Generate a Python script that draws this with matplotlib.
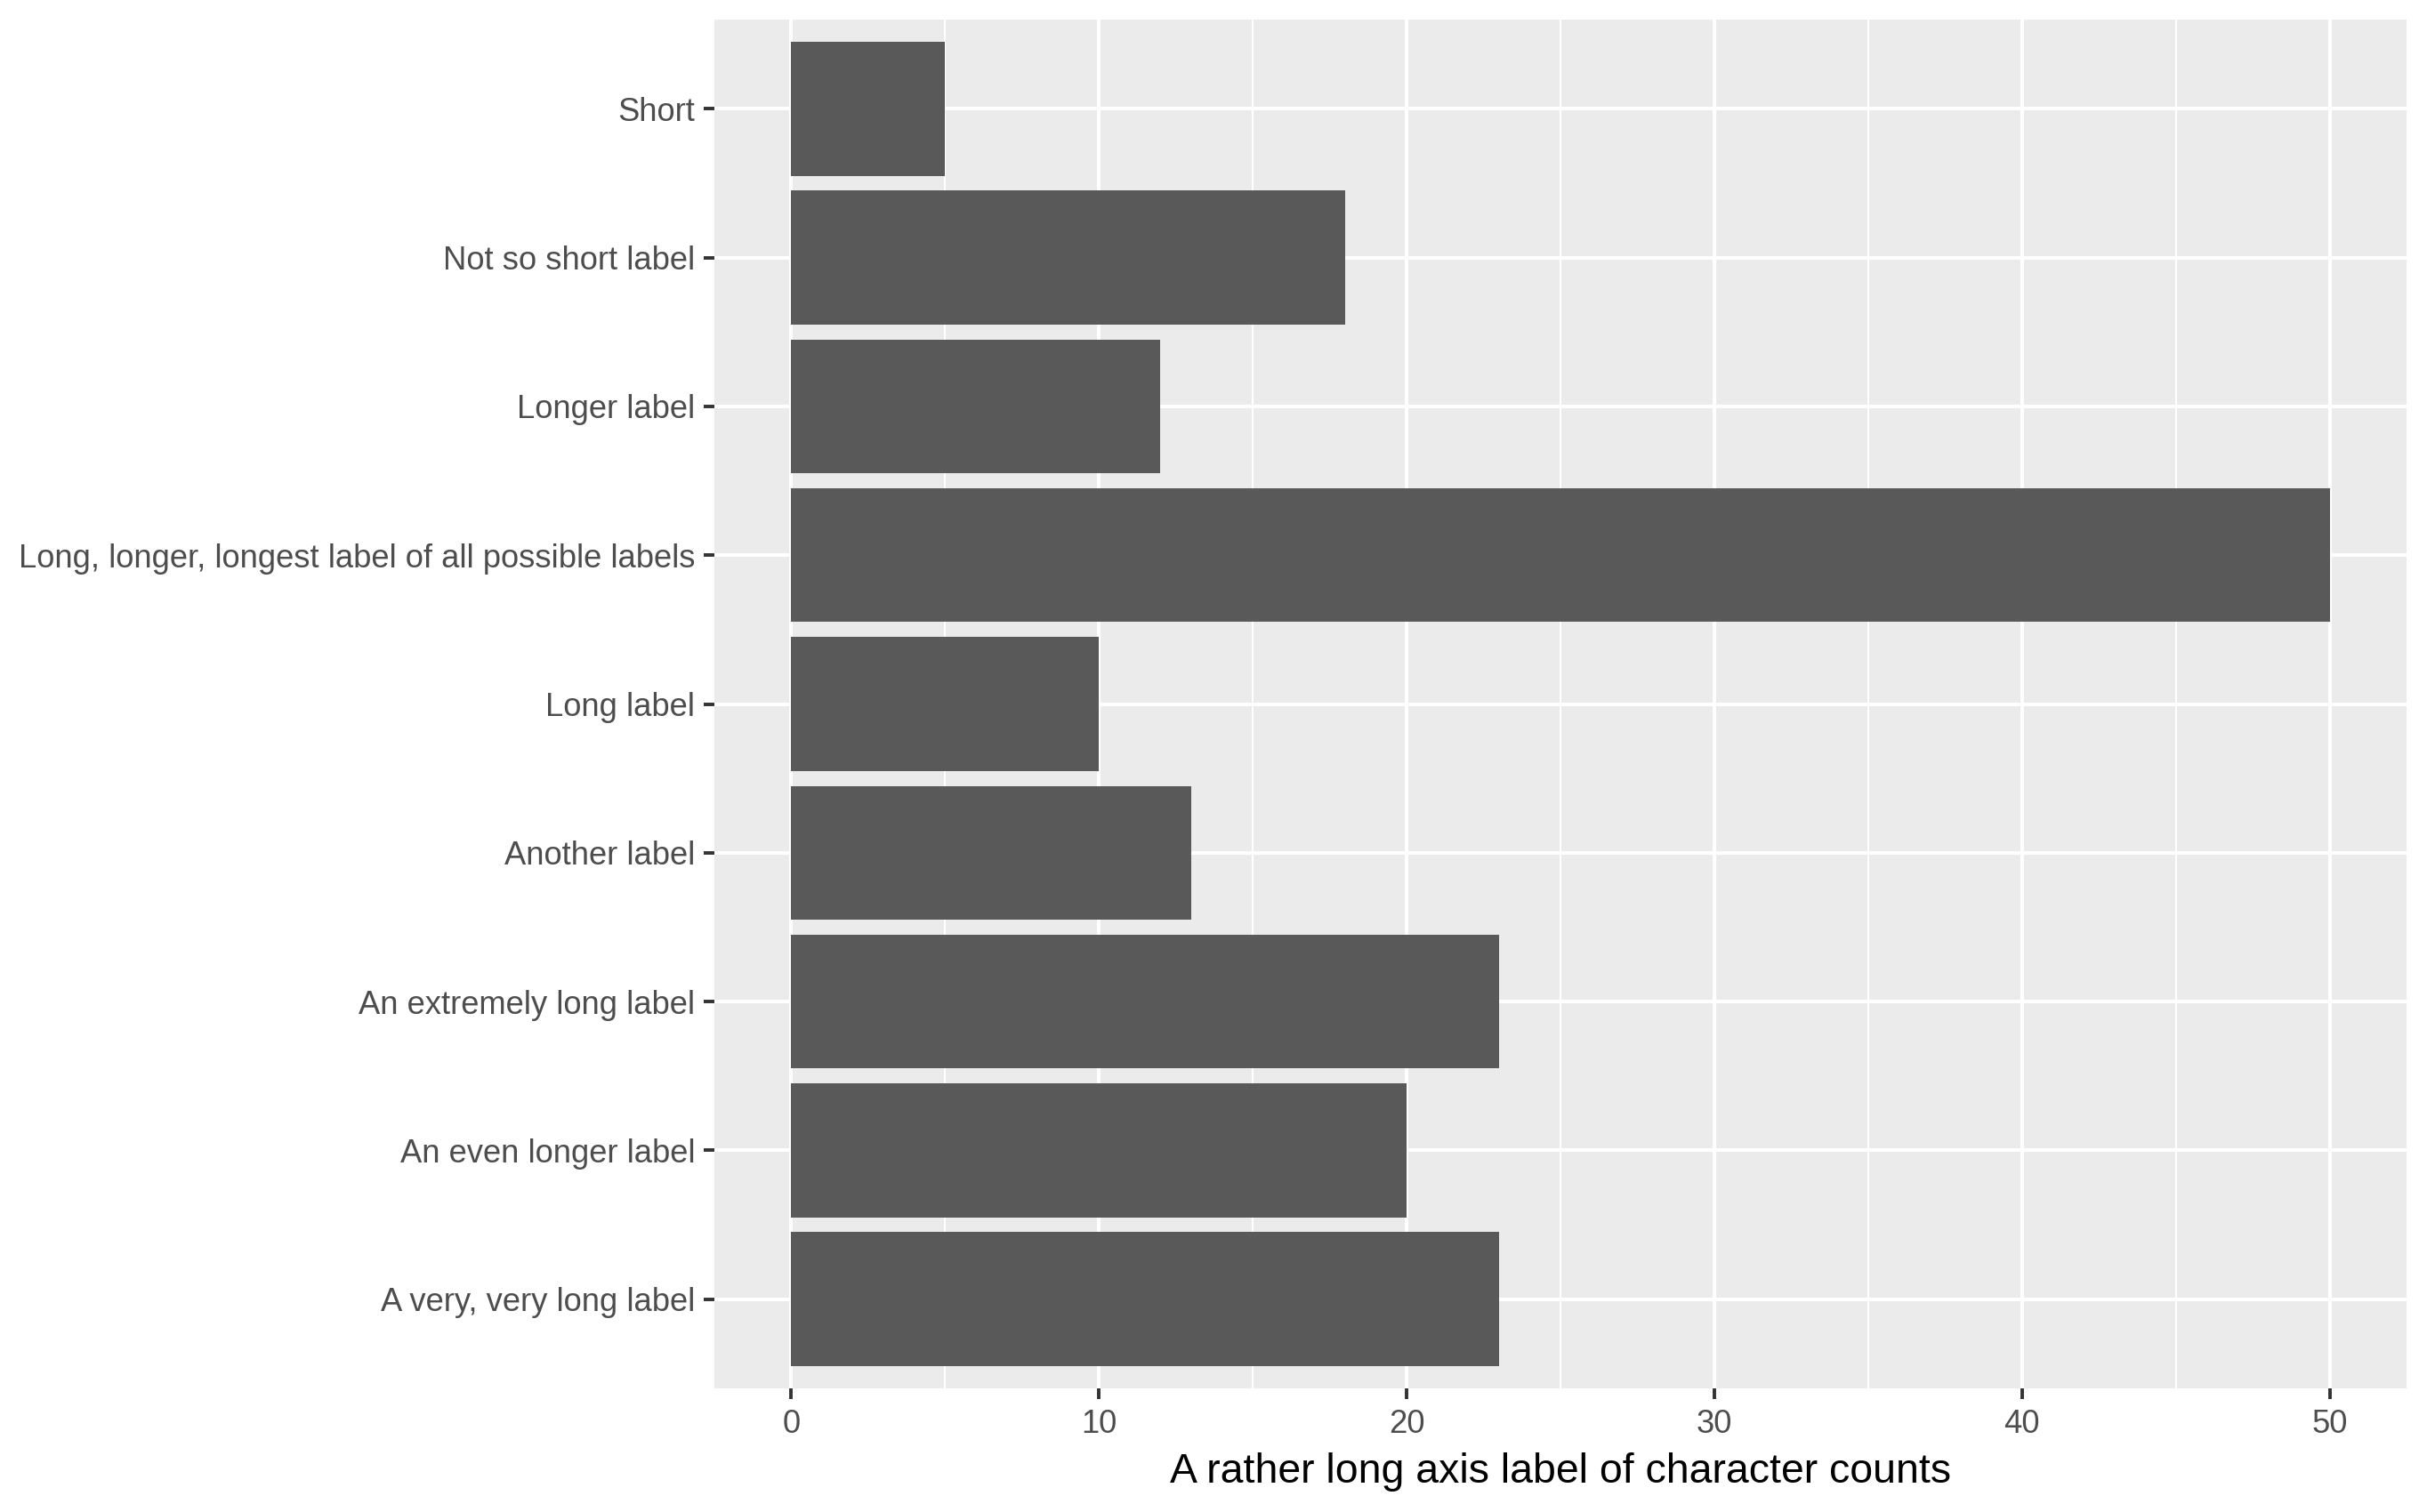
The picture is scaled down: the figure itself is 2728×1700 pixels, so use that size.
import matplotlib
matplotlib.use('Agg')
from matplotlib import pyplot as plt
from matplotlib.ticker import MultipleLocator

plt.rcParams['font.family'] = ['Liberation Sans', 'DejaVu Sans']

# data, bottom to top
labels = ['A very, very long label', 'An even longer label', 'An extremely long label',
          'Another label', 'Long label', 'Long, longer, longest label of all possible labels',
          'Longer label', 'Not so short label', 'Short']
counts = [23, 20, 23, 13, 10, 50, 12, 18, 5]
xticks = [0, 10, 20, 30, 40, 50]

fig = plt.figure(figsize=(13.64, 8.5), dpi=200)
ax = fig.add_axes([803 / 2728, 1 - 1561 / 1700, (2705 - 803) / 2728, (1561 - 22) / 1700])

ax.set_facecolor('#EBEBEB')
for s in ax.spines.values():
    s.set_visible(False)

# ggplot-like grid
ax.set_axisbelow(True)
ax.xaxis.set_major_locator(MultipleLocator(10))
ax.xaxis.set_minor_locator(MultipleLocator(5))
ax.grid(which='major', color='white', linewidth=1.45)
ax.grid(which='minor', axis='x', color='white', linewidth=0.72)

ypos = list(range(len(labels)))
ax.barh(ypos, counts, height=0.9, color='#595959', zorder=2)

ax.set_yticks(ypos)
ax.set_yticklabels(labels)
ax.set_xticks(xticks)
ax.set_xticklabels([str(t) for t in xticks])
ax.set_xlim(-2.5, 52.5)
ax.set_ylim(-0.6, len(labels) - 0.4)

ax.tick_params(axis='both', which='major', length=4.3, width=1.4, color='#333333',
               labelcolor='#4D4D4D', labelsize=13.1)
ax.tick_params(axis='x', pad=4.0)
ax.tick_params(axis='y', pad=3.6)
ax.tick_params(axis='x', which='minor', length=0)

ax.set_xlabel('A rather long axis label of character counts', fontsize=16.7,
              color='black', labelpad=5)

fig.savefig('out.png', dpi=200, facecolor='white')
